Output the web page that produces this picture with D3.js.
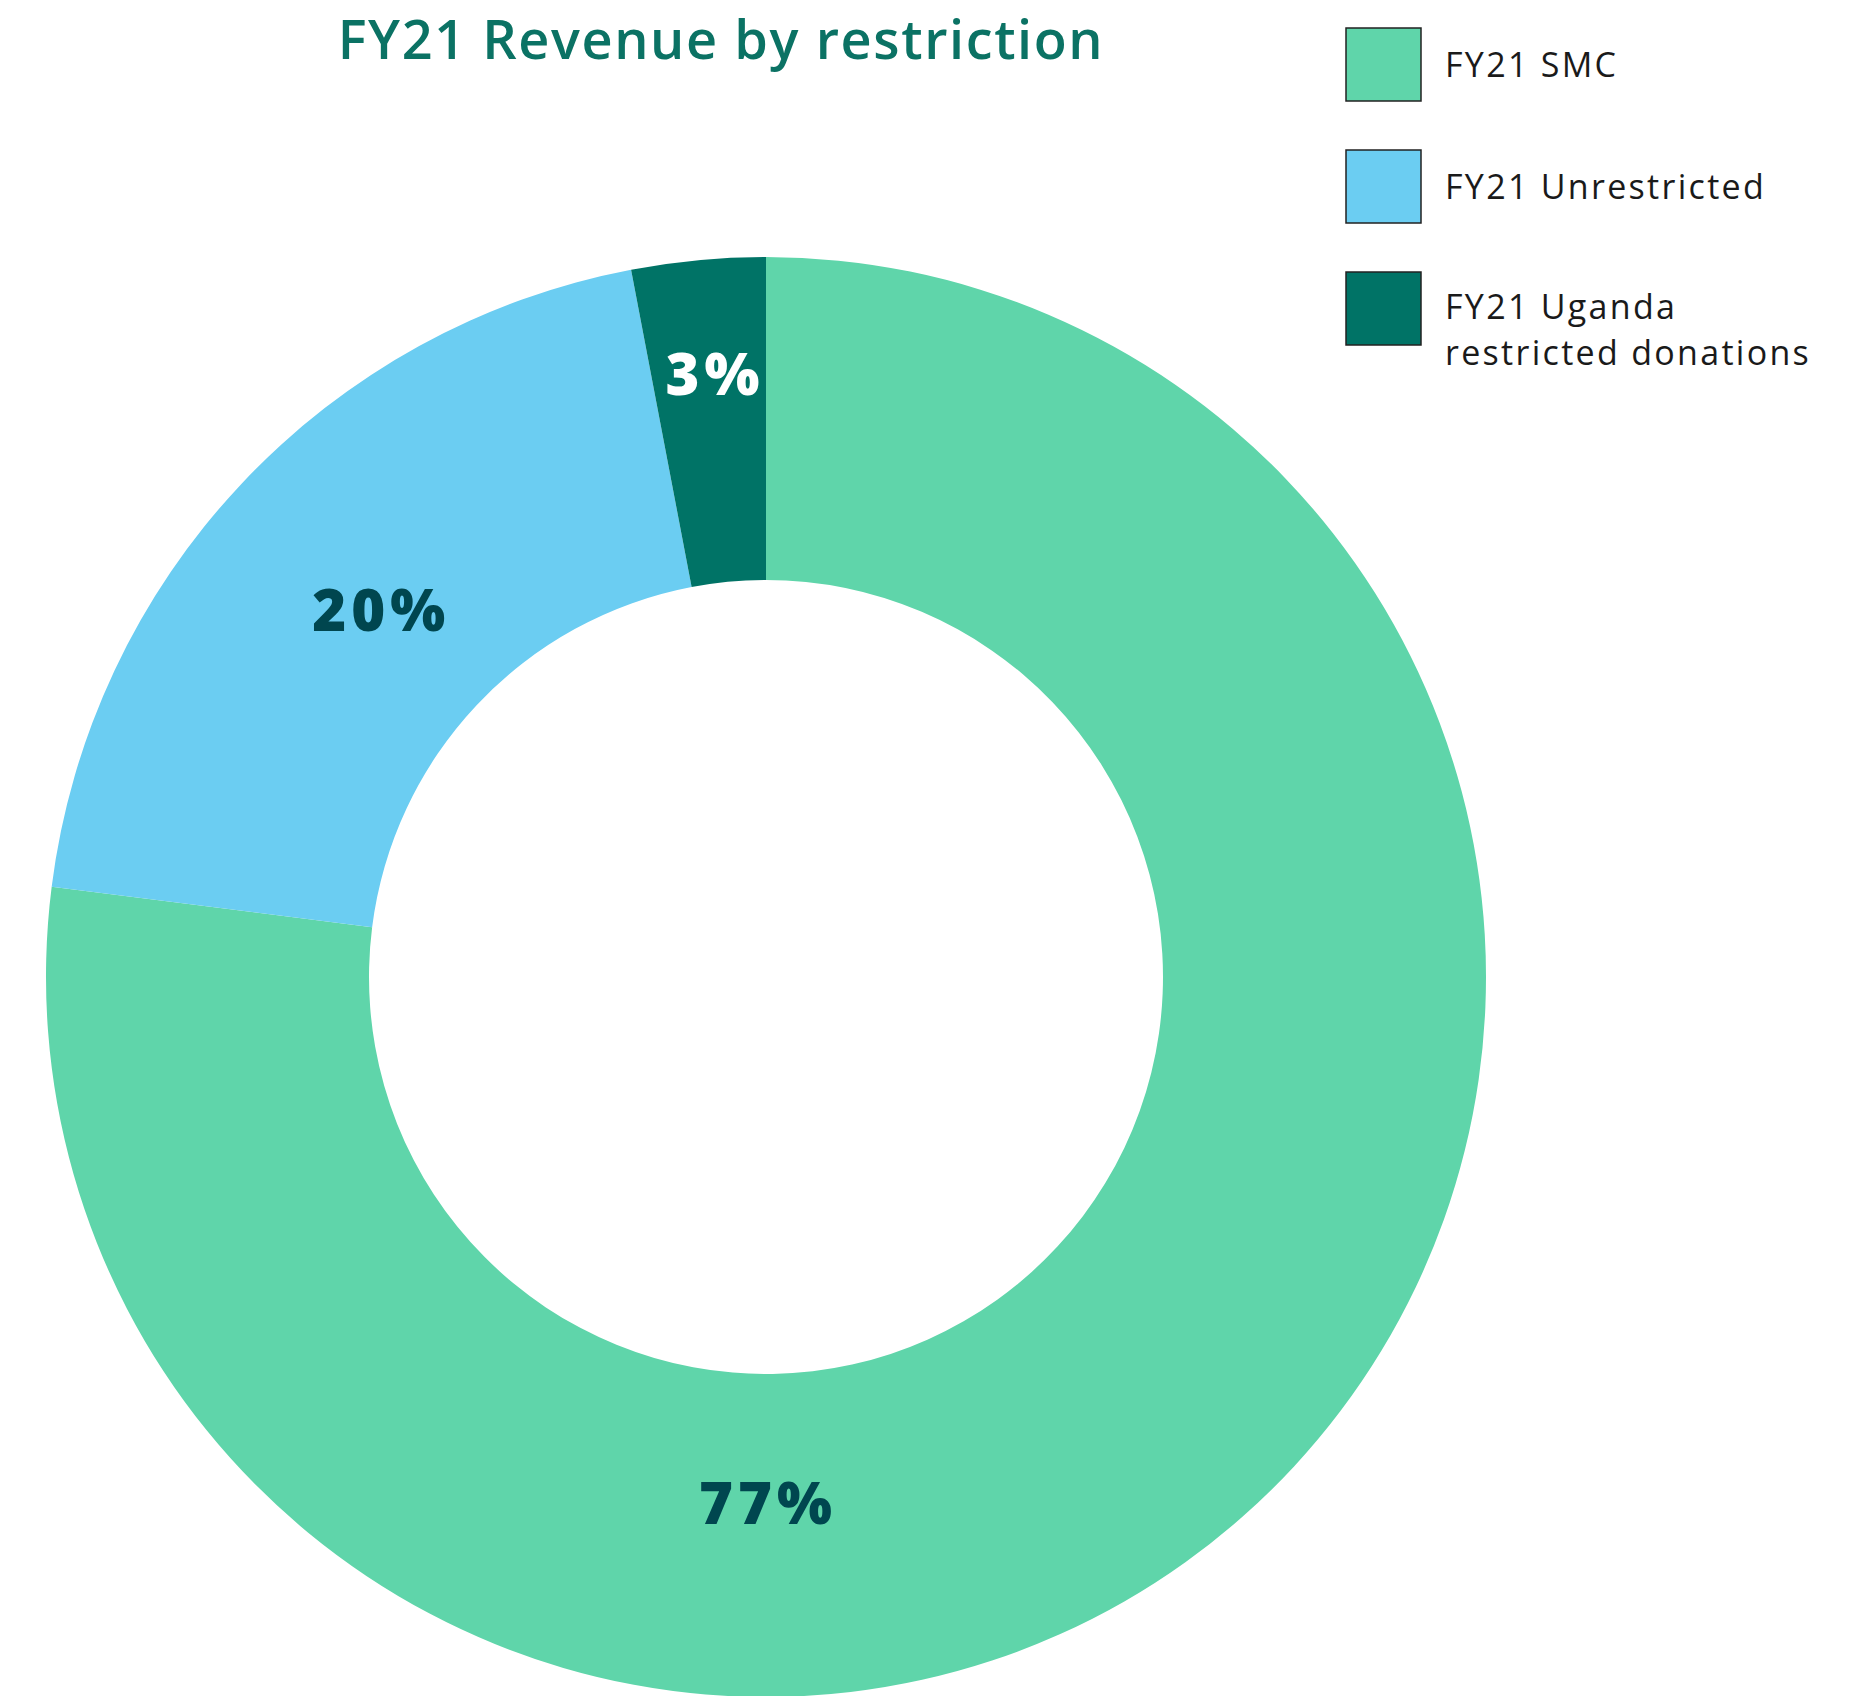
<!DOCTYPE html>
<html>
<head>
<meta charset="utf-8">
<script src="https://cdn.jsdelivr.net/npm/d3@7"></script>
<style>
	body { margin: 0; background: #fff; }
	svg { display: block; }
</style>
</head>
<body>
<svg></svg>
<script>
var categories = ['FY21 SMC', 'FY21 Unrestricted', 'FY21 Uganda restricted donations'];
var values = [77, 20, 3];
var labels = ['77%', '20%', '3%'];
var legendLines = [['FY21 SMC'], ['FY21 Unrestricted'], ['FY21 Uganda', 'restricted donations']];
var colors = ['#5fd5aa', '#6bcdf2', '#007366'];
var labelColors = ['#00464f', '#00464f', '#ffffff'];

var width = 1849;
var height = 1696;
var cx = 766, cy = 977;
var outerR = 720, innerR = 397;

var svg = d3.select('svg')
	.attr('width', width)
	.attr('height', height);

var pie = d3.pie()
	.sort(null)
	.value(function(d) { return d; });

var arc = d3.arc()
	.innerRadius(innerR)
	.outerRadius(outerR);

var arcs = pie(values);

var g = svg.append('g')
	.attr('transform', `translate(${cx},${cy})`);

g.selectAll('path')
	.data(arcs)
	.enter()
	.append('path')
	.attr('d', arc)
	.attr('fill', function(d, i) { return colors[i]; });

// label positions roughly like the original (big slice label sits at the bottom)
var labelArc = d3.arc().innerRadius(536).outerRadius(536);
function labelPos(d, i) {
	if (i === 0) return [2, 526];
	if (i === 2) return d3.arc().innerRadius(606).outerRadius(606).centroid(d);
	return labelArc.centroid(d);
}

g.selectAll('text.pct')
	.data(arcs)
	.enter()
	.append('text')
	.attr('class', 'pct')
	.attr('transform', function(d, i) { return `translate(${labelPos(d, i)})`; })
	.attr('text-anchor', 'middle')
	.attr('dx', function(d, i) { return i === 0 ? 0 : 6; })
	.attr('dy', '0.36em')
	.style('font-family', '"Open Sans", sans-serif')
	.style('font-weight', 800)
	.style('font-size', '58px')
	.style('letter-spacing', '5px')
	.attr('fill', function(d, i) { return labelColors[i]; })
	.text(function(d, i) { return labels[i]; });

svg.append('text')
	.attr('x', 721)
	.attr('y', 59)
	.attr('text-anchor', 'middle')
	.style('font-family', '"Open Sans", sans-serif')
	.style('font-weight', 600)
	.style('font-size', '54px')
	.style('letter-spacing', '1.6px')
	.attr('fill', '#0b7264')
	.text('FY21 Revenue by restriction');

var legend = svg.append('g')
	.attr('transform', 'translate(1346,28)');

var item = legend.selectAll('g')
	.data(categories)
	.enter()
	.append('g')
	.attr('transform', function(d, i) { return `translate(0,${i * 122})`; });

item.append('rect')
	.attr('width', 75)
	.attr('height', 73)
	.attr('fill', function(d, i) { return colors[i]; })
	.attr('stroke', '#222')
	.attr('stroke-width', 1.5);

item.each(function(d, i) {
	var lines = legendLines[i];
	var top = lines.length > 1 ? 47 : 49;
	lines.forEach(function(l, j) {
		d3.select(this).append('text')
			.attr('x', 99)
			.attr('y', top + j * 46)
			.style('font-family', '"Open Sans", sans-serif')
			.style('font-size', '34px')
			.style('letter-spacing', '2.3px')
			.attr('fill', '#1a1a1a')
			.text(l);
	}, this);
});
</script>
</body>
</html>
